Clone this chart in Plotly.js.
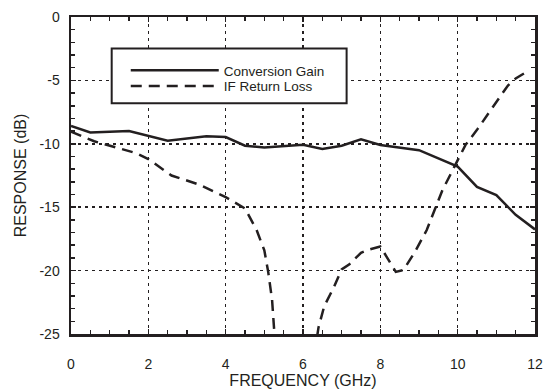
<!DOCTYPE html>
<html>
<head>
<meta charset="utf-8">
<script src="https://cdn.plot.ly/plotly-3.0.1.min.js"></script>
<style>html,body{margin:0;padding:0;background:#fff;}#chart{width:543px;height:389px;}</style>
</head>
<body>
<div id="chart"></div>
<script>
// Conversion Gain (solid)
const gainFreq = [0, 0.5, 1.5, 2, 2.5, 3.5, 4, 4.5, 5, 6, 6.5, 7, 7.5, 8, 9, 10, 10.5, 11, 11.5, 12];
const gainDb   = [-8.6, -9.1, -9.0, -9.4, -9.75, -9.4, -9.47, -10.15, -10.3, -10.07, -10.4, -10.15, -9.65, -10.1, -10.5, -11.8, -13.4, -14.05, -15.6, -16.75];
// IF Return Loss (dashed)
const rlFreq = [0, 0.6, 1.7, 2, 2.6, 3.3, 4, 4.5, 4.8, 5.0, 5.1, 5.2, 5.25, 5.3, 6.3, 6.4, 6.55, 6.8, 7.0, 7.2, 7.5, 7.7, 8.0, 8.1, 8.4, 8.6, 8.9, 9.2, 9.4, 9.6, 9.9, 10.05, 10.2, 10.5, 10.8, 11.1, 11.3, 11.5, 11.8];
const rlDb   = [-9.05, -9.8, -10.75, -11.2, -12.5, -13.2, -14.2, -15.1, -16.8, -18.4, -20.1, -22.3, -24.5, -26.5, -26.5, -24.5, -22.8, -21.3, -19.9, -19.5, -18.6, -18.35, -18.1, -18.6, -20.1, -19.95, -18.5, -16.8, -15.2, -13.7, -11.9, -11.0, -10.1, -8.9, -7.6, -6.3, -5.4, -4.85, -4.3];
const xTicks = [0, 2, 4, 6, 8, 10, 12];
const yTicks = [0, -5, -10, -15, -20, -25];

const ink = '#231f20';
const font = {family: 'Liberation Sans, Arial, Helvetica, sans-serif', color: ink};

const traces = [
  {x: gainFreq, y: gainDb, name: 'Conversion Gain', mode: 'lines', legend: 'legend',
   line: {color: ink, width: 2.5}},
  {x: rlFreq, y: rlDb, name: 'IF Return Loss', mode: 'lines', legend: 'legend2',
   line: {color: ink, width: 2.5, dash: '11px,7px'}}
];

const axisCommon = {
  showline: true, linecolor: ink, linewidth: 2.5, mirror: 'allticks',
  ticks: 'inside', ticklen: 5, tickwidth: 1.5, tickcolor: ink,
  showgrid: true, gridcolor: ink, gridwidth: 1.5, griddash: '3px,4px',
  zeroline: false, tickfont: Object.assign({size: 14}, font)
};

const legendCommon = {
  xanchor: 'left', yanchor: 'middle',
  bgcolor: 'rgba(0,0,0,0)', borderwidth: 0,
  font: Object.assign({size: 13.5}, font),
  itemwidth: 88, tracegroupgap: 0
};

const layout = {
  width: 543, height: 389,
  margin: {l: 71, r: 8, t: 17, b: 55},
  paper_bgcolor: '#fff', plot_bgcolor: '#fff',
  font: font,
  showlegend: true,
  xaxis: Object.assign({}, axisCommon, {
    range: [0, 12], tickvals: xTicks, ticktext: xTicks.map(String),
    ticklabelstandoff: 16,
    minor: {dtick: 0.5, ticks: 'inside', ticklen: 4, tickwidth: 1.5, tickcolor: ink, showgrid: false},
    title: {text: 'FREQUENCY (GHz)', font: Object.assign({size: 16}, font), standoff: 2}
  }),
  yaxis: Object.assign({}, axisCommon, {
    range: [-25, 0], tickvals: yTicks, ticktext: yTicks.map(String),
    ticklabelstandoff: 6,
    minor: {dtick: 1, ticks: 'inside', ticklen: 4, tickwidth: 1.5, tickcolor: ink, showgrid: false},
    title: {text: 'RESPONSE (dB)', font: Object.assign({size: 16}, font), standoff: 9}
  }),
  legend: Object.assign({}, legendCommon, {x: 0.118, y: 0.831}),
  legend2: Object.assign({}, legendCommon, {x: 0.118, y: 0.782}),
  shapes: [{
    type: 'rect', xref: 'paper', yref: 'paper',
    x0: 0.0877, x1: 0.594, y0: 0.728, y1: 0.901,
    line: {color: ink, width: 2}, fillcolor: '#fff', layer: 'above'
  }]
};

Plotly.newPlot('chart', traces, layout, {displayModeBar: false, staticPlot: true});
</script>
</body>
</html>
